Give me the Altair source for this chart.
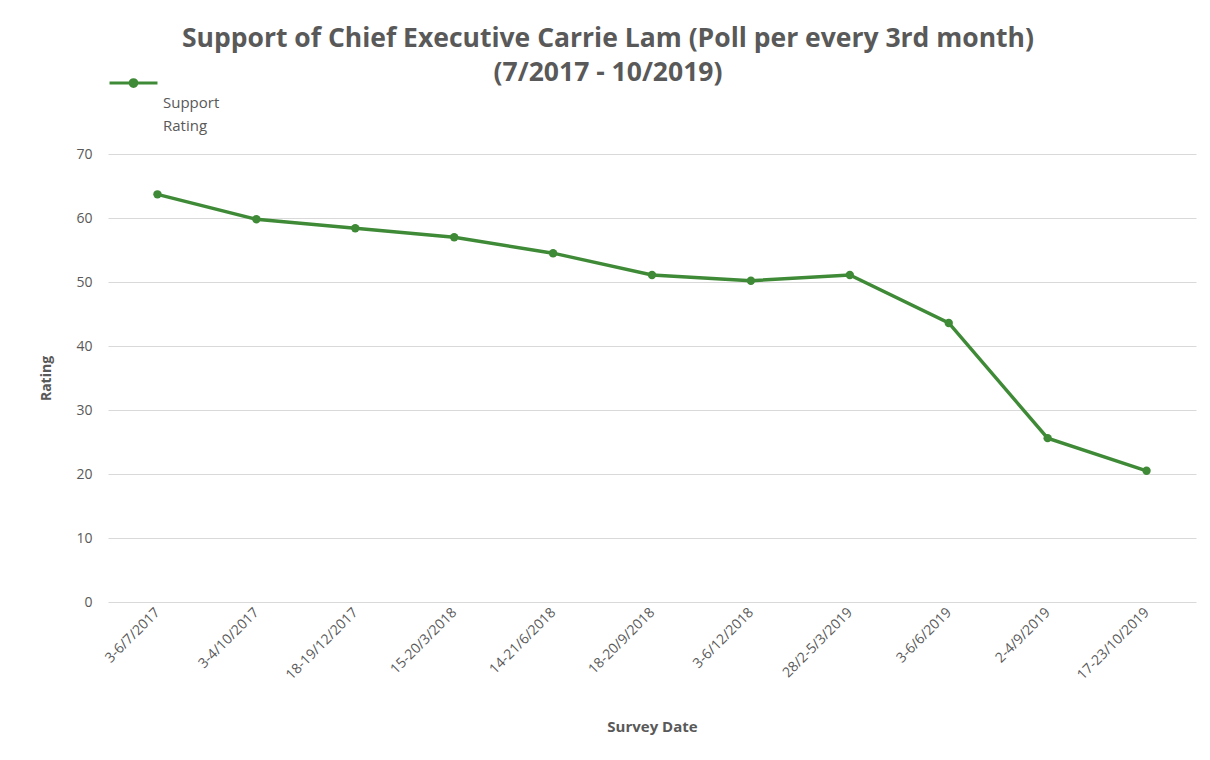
import altair as alt
import pandas as pd

dates = ["3-6/7/2017", "3-4/10/2017", "18-19/12/2017", "15-20/3/2018", "14-21/6/2018",
         "18-20/9/2018", "3-6/12/2018", "28/2-5/3/2019", "3-6/6/2019", "2-4/9/2019",
         "17-23/10/2019"]
ratings = [63.7, 59.8, 58.4, 57.0, 54.5, 51.1, 50.2, 51.1, 43.6, 25.6, 20.5]
series = ["Support Rating"] * len(dates)

df = pd.DataFrame({"date": dates, "rating": ratings, "series": series})

GREEN = "#3f8a37"
GREY = "#595959"
FONT = "Open Sans"

sym = ("M-1,-0.52L1,-0.52"
       "M-0.14,-0.52A0.14,0.14,0,1,1,0.14,-0.52A0.14,0.14,0,1,1,-0.14,-0.52Z")

chart = alt.Chart(df).mark_line(
    strokeWidth=3.4,
    point=alt.OverlayMarkDef(filled=True, size=70, color=GREEN),
).encode(
    x=alt.X("date:N", sort=dates, title="Survey Date",
            scale=alt.Scale(paddingInner=1, paddingOuter=0.5),
            axis=alt.Axis(labelAngle=-45, labelAlign="right", labelBaseline="middle",
                          labelFontSize=14, labelColor=GREY, labelFont=FONT,
                          ticks=False, domain=False, labelPadding=8, grid=False,
                          titleFontSize=15, titleFont=FONT, titleColor=GREY,
                          titleFontWeight="bold", titlePadding=38)),
    y=alt.Y("rating:Q", title="Rating",
            scale=alt.Scale(domain=[0, 70]),
            axis=alt.Axis(values=[0, 10, 20, 30, 40, 50, 60, 70], ticks=False, domain=False,
                          labelFontSize=14, labelColor=GREY, labelFont=FONT, labelPadding=16,
                          grid=True, gridColor="#d9d9d9", gridWidth=1.2,
                          titleFontSize=14, titleFont=FONT, titleColor=GREY,
                          titleFontWeight="bold", titlePadding=22)),
    color=alt.Color("series:N", scale=alt.Scale(range=[GREEN]),
                    legend=alt.Legend(title=None, orient="none", legendX=0, legendY=-84,
                                      symbolType=sym, symbolSize=2300, symbolStrokeWidth=3,
                                      symbolFillColor=GREEN, symbolStrokeColor=GREEN,
                                      labelExpr="['Support', 'Rating']",
                                      labelBaseline="top", labelFontSize=15,
                                      labelColor=GREY, labelFont=FONT, labelOffset=4)),
).properties(
    width=1088,
    height=448,
    title=alt.TitleParams(
        text=["Support of Chief Executive Carrie Lam (Poll per every 3rd month)",
              "(7/2017 - 10/2019)"],
        fontSize=26.5, font=FONT, fontWeight="bold", color=GREY, lineHeight=34,
        anchor="middle", dx=-44, offset=-16),
    autosize=alt.AutoSizeParams(type="none"),
    padding={"left": 100, "top": 146, "right": 6, "bottom": 140},
).configure(
    view=alt.ViewConfig(stroke=None),
    style={"guide-label": alt.MarkConfig(lineHeight=23)},
)

chart.save("out.html", embed_options={"renderer": "svg", "actions": False})
